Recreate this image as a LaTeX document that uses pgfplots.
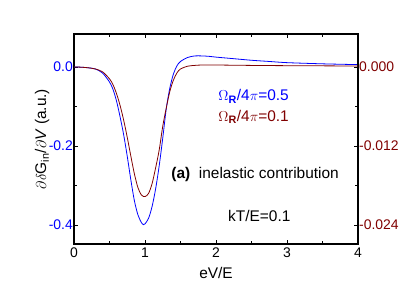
\documentclass[border=0pt]{standalone}
\usepackage{pgfplots}
\pgfplotsset{compat=1.18}
\usepackage{fontspec}
\setmainfont{Liberation Sans}
\definecolor{dred}{RGB}{128,0,0}
\definecolor{pblue}{RGB}{0,0,255}
\begin{document}
\begin{tikzpicture}
\begin{axis}[
  name=ax1, at={(0,0)}, anchor=south west,
  scale only axis, width=284bp, height=210bp,
  xmin=0, xmax=4, ymin=-0.448, ymax=0.0835,
  axis line style={line width=1.1pt},
  tick style={black, line width=0.9pt},
  tick align=inside,
  major tick length=4bp, minor tick length=3bp,
  xtick={0,1,2,3,4}, xticklabels={0,1,2,3,4},
  minor xtick={0.5,1.5,2.5,3.5},
  xtick pos=both,
  ytick={-0.4,-0.2,0}, yticklabels={-0.4,-0.2,0.0},
  minor ytick={-0.3,-0.1},
  ytick pos=left,
  yticklabel style={text=pblue, font=\fontsize{14}{16}\selectfont, inner sep=1bp},
  xticklabel style={font=\fontsize{14}{16}\selectfont},
  xlabel={eV/E}, xlabel style={font=\fontsize{15.5}{18}\selectfont, yshift=-3bp},
  ylabel={$\partial\delta$G$_{\mathrm{in}}$/$\partial$\textit{V} (a.u.)},
  ylabel style={font=\fontsize{15.5}{18}\selectfont, yshift=-5bp},
  clip=true,
]
\addplot[pblue, line width=0.8pt, smooth] coordinates {
(0,0) (0.1,-0.0005) (0.2,-0.002) (0.3,-0.005) (0.4,-0.015) (0.5,-0.038)
(0.55,-0.057) (0.6,-0.087) (0.65,-0.127) (0.7,-0.172) (0.75,-0.226)
(0.8,-0.285) (0.85,-0.338) (0.9,-0.374) (0.95,-0.394) (0.98,-0.399)
(1.0,-0.397) (1.05,-0.383) (1.1,-0.353) (1.15,-0.308) (1.2,-0.25)
(1.25,-0.18) (1.3,-0.105) (1.35,-0.053) (1.4,-0.018) (1.45,0.003)
(1.5,0.014) (1.6,0.024) (1.7,0.028) (1.8,0.028) (1.9,0.027) (2.0,0.025)
(2.25,0.021) (2.5,0.017) (2.75,0.014) (3.0,0.011) (3.5,0.008) (4.0,0.006)
};
\node[text=pblue, font=\fontsize{15.5}{18}\selectfont] at (axis cs:2.53,-0.075) {$\Omega$\textsubscript{\textbf{R}}/4$\pi$=0.5};
\node[text=dred, font=\fontsize{15.5}{18}\selectfont] at (axis cs:2.53,-0.126) {$\Omega$\textsubscript{\textbf{R}}/4$\pi$=0.1};
\node[anchor=west, font=\fontsize{15.5}{18}\selectfont, inner sep=0pt] at (axis cs:1.37,-0.272) {\textbf{(a)}\ \ inelastic contribution};
\node[font=\fontsize{15.5}{18}\selectfont] at (axis cs:2.61,-0.378) {kT/E=0.1};
\end{axis}
\begin{axis}[
  at={(0,0)}, anchor=south west,
  scale only axis, width=284bp, height=210bp,
  xmin=0, xmax=4, ymin=-0.02688, ymax=0.00501,
  hide x axis,
  axis y line*=right,
  scaled y ticks=false,
  axis line style={line width=1.1pt},
  tick style={black, line width=0.9pt},
  tick align=inside,
  major tick length=4bp, minor tick length=3bp,
  ytick={-0.024,-0.012,0}, yticklabels={-0.024,-0.012,0.000},
  minor ytick={-0.018,-0.006},
  yticklabel style={text=dred, font=\fontsize{14}{16}\selectfont, inner sep=1bp},
]
\addplot[dred, line width=0.8pt, smooth] coordinates {
(0,0) (0.1,-0.00003) (0.2,-0.00012) (0.3,-0.0003) (0.4,-0.00072) (0.5,-0.0018)
(0.55,-0.0027) (0.6,-0.00408) (0.65,-0.00588) (0.7,-0.0081) (0.75,-0.01068)
(0.8,-0.0135) (0.85,-0.0162) (0.9,-0.0183) (0.95,-0.01944) (1.0,-0.01968)
(1.05,-0.0192) (1.1,-0.0177) (1.15,-0.0153) (1.2,-0.0126) (1.25,-0.009)
(1.3,-0.0062) (1.35,-0.0037) (1.4,-0.002) (1.45,-0.0009) (1.5,-0.0003)
(1.6,0.00012) (1.7,0.00024) (1.8,0.0003) (2.0,0.0003) (2.5,0.00024)
(3.0,0.0002) (4.0,0.00015)
};
\end{axis}
\pgfresetboundingbox
\useasboundingbox (-74bp,-50bp) rectangle (341bp,244bp);
\end{tikzpicture}
\end{document}
